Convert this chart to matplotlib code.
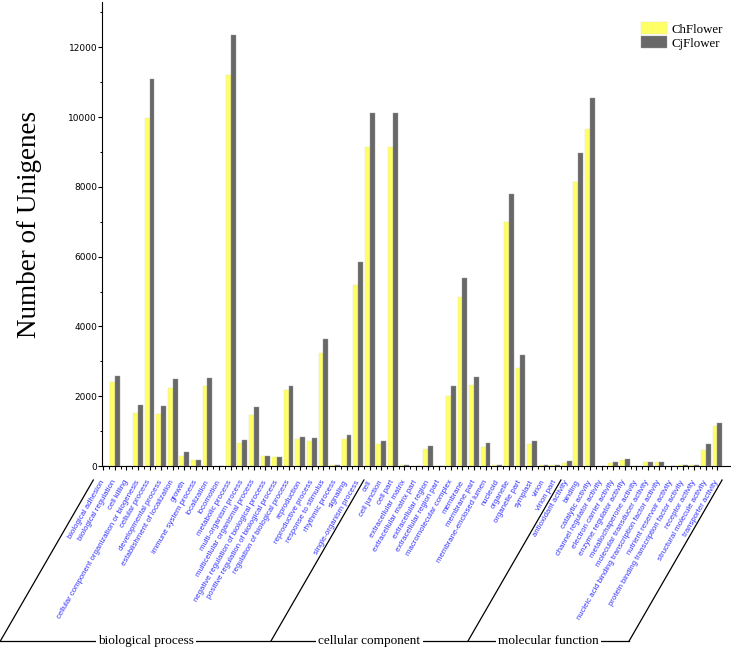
import numpy as np
import matplotlib.pyplot as plt
from matplotlib.lines import Line2D

# GO categories, in plotting order
categories = [
    "biological adhesion", "biological regulation", "cell killing",
    "cellular component organization or biogenesis", "cellular process",
    "developmental process", "establishment of localization", "growth",
    "immune system process", "localization", "locomotion", "metabolic process",
    "multi-organism process", "multicellular organismal process",
    "negative regulation of biological process",
    "positive regulation of biological process",
    "regulation of biological process", "reproduction", "reproductive process",
    "response to stimulus", "rhythmic process", "signaling",
    "single-organism process",
    "cell", "cell junction", "cell part", "extracellular matrix",
    "extracellular matrix part", "extracellular region",
    "extracellular region part", "macromolecular complex", "membrane",
    "membrane part", "membrane-enclosed lumen", "nucleoid", "organelle",
    "organelle part", "symplast", "virion", "virion part",
    "antioxidant activity", "binding", "catalytic activity",
    "channel regulator activity", "electron carrier activity",
    "enzyme regulator activity", "metallochaperone activity",
    "molecular transducer activity",
    "nucleic acid binding transcription factor activity",
    "nutrient reservoir activity",
    "protein binding transcription factor activity", "receptor activity",
    "structural molecule activity", "transporter activity",
]

ch_flower = [
    10, 2400, 5, 1520, 9980, 1500, 2230, 300, 170, 2280, 10, 11200,
    650, 1450, 290, 260, 2170, 780, 720, 3230, 30, 760, 5200,
    9150, 640, 9150, 20, 10, 480, 5, 2010, 4840, 2320, 540, 25, 7000,
    2800, 640, 20, 20,
    95, 8150, 9650, 5, 76, 170, 5, 124, 105, 10, 20, 30, 470, 1140,
]
cj_flower = [
    10, 2570, 5, 1750, 11100, 1720, 2480, 400, 170, 2530, 10, 12340,
    750, 1700, 290, 260, 2300, 830, 800, 3640, 40, 880, 5840,
    10110, 730, 10110, 20, 10, 580, 5, 2300, 5400, 2550, 670, 30, 7800,
    3180, 730, 15, 15,
    135, 8980, 10560, 5, 105, 190, 8, 124, 115, 10, 30, 40, 620, 1230,
]

groups = ["biological process", "cellular component", "molecular function"]
group_sizes = [23, 17, 14]

W, H = 731, 648
fig = plt.figure(figsize=(W / 100, H / 100), dpi=100)
ax = fig.add_axes([102 / W, 1 - 466 / H, (729.6 - 102) / W, (466 - 2) / H])

x = np.arange(len(categories))
w = 0.42
ax.bar(x - w / 2, ch_flower, w, color="#ffff66", edgecolor="#e6e6a0",
       linewidth=0.3, label="ChFlower")
ax.bar(x + w / 2, cj_flower, w, color="#686868", edgecolor="#9a9a9a",
       linewidth=0.3, label="CjFlower")

ax.set_xlim(-0.1, 54.05)
ax.set_ylim(0, 13300)
ax.spines["top"].set_visible(False)
ax.spines["right"].set_visible(False)
for s in ("left", "bottom"):
    ax.spines[s].set_linewidth(0.8)

ax.set_yticks(np.arange(0, 12001, 2000))
ax.set_yticks(np.arange(1000, 13001, 2000), minor=True)
ax.tick_params(axis="y", which="major", length=3, width=0.8, labelsize=6.5, pad=0.5)
ax.tick_params(axis="y", which="minor", length=1.8, width=0.7)

ax.set_xticks(x)
ax.set_xticks(x[:-1] + 0.5, minor=True)
ax.set_xticklabels(categories, rotation=60, ha="right", va="center",
                   rotation_mode="anchor", color="#3333ff", fontsize=5.6,
                   family="Liberation Sans")
ax.tick_params(axis="x", which="major", length=3, width=0.8, pad=7.5)
ax.tick_params(axis="x", which="minor", length=1.8, width=0.7)

ax.legend(loc="upper left", bbox_to_anchor=(635 / W, 1 - 16 / H),
          bbox_transform=fig.transFigure, frameon=False, borderpad=0,
          handlelength=2.0, handleheight=1.0, labelspacing=0.05,
          handletextpad=0.3, prop={"family": "Liberation Serif", "size": 9.3})

fig.text(30 / W, 1 - 224 / H, "Number of Unigenes", rotation=90,
         ha="center", va="center", fontsize=19.5, family="Liberation Serif")

# slanted group brackets under the tick labels
bounds = [-0.85]
pos = -0.5
for n in group_sizes:
    pos += n
    bounds.append(pos)
bounds[-1] = 53.4

y_top, y_bot = H - 480, H - 641
dx = (y_top - y_bot) / np.tan(np.radians(60))
bottoms = []
for b in bounds:
    xt = ax.transData.transform((b, 0))[0]
    xb = xt - dx
    bottoms.append(xb)
    fig.add_artist(Line2D([xt / W, xb / W], [y_top / H, y_bot / H],
                          transform=fig.transFigure, color="black", lw=0.9))
fig.add_artist(Line2D([bottoms[0] / W, bottoms[-1] / W], [y_bot / H, y_bot / H],
                      transform=fig.transFigure, color="black", lw=0.9))
offsets = [10, 0, 0]
for i, name in enumerate(groups):
    xm = (bottoms[i] + bottoms[i + 1]) / 2 + offsets[i]
    fig.text(xm / W, y_bot / H, name, ha="center", va="center", fontsize=9.5,
             family="Liberation Serif",
             bbox=dict(facecolor="white", edgecolor="none", pad=1.5))

fig.savefig("out.png", dpi=100)
